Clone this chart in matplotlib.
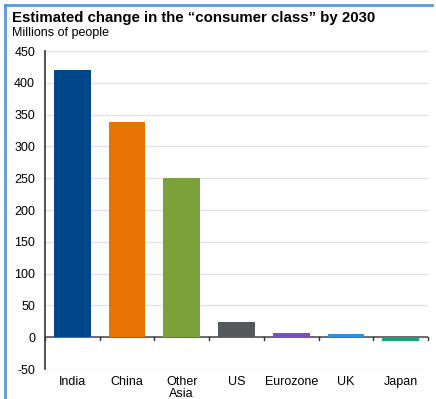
import matplotlib.pyplot as plt
from matplotlib.lines import Line2D

plt.rcParams['font.family'] = ['Liberation Sans', 'DejaVu Sans']

# Estimated change in consumer class by 2030 (millions of people)
regions = ['India', 'China', 'Other\nAsia', 'US', 'Eurozone', 'UK', 'Japan']
change = [420, 338, 250, 24, 6, 5, -6]
colors = ['#00478A', '#E97300', '#7BA23A', '#55595B', '#7A4FBE', '#2F8FDD', '#17A673']
yticks = [-50, 0, 50, 100, 150, 200, 250, 300, 350, 400, 450]

fig = plt.figure(figsize=(4.36, 3.99), dpi=100)
ax = fig.add_axes([0.103, 0.075, 0.879, 0.797])

x = list(range(len(regions)))
ax.bar(x, change, width=0.67, color=colors, zorder=5)

ax.set_xlim(-0.5, len(regions) - 0.5)
ax.set_ylim(-50, 450)
ax.set_yticks(yticks)
ax.set_yticklabels([str(v) for v in yticks], fontsize=9)
ax.grid(axis='y', color='#E3E3E3', lw=1, zorder=0)

# zero line with category boundary ticks
ax.axhline(0, color='#555555', lw=1.2, zorder=4)
for b in range(len(regions) + 1):
    ax.plot([b - 0.5, b - 0.5], [0, -4], color='#333333', lw=1, zorder=4, clip_on=False)

ax.set_xticks(x)
ax.set_xticklabels(regions, fontsize=9, linespacing=0.95)
ax.tick_params(axis='x', length=0, pad=5)
ax.tick_params(axis='y', length=0, pad=7)
for s in ['top', 'right', 'bottom']:
    ax.spines[s].set_visible(False)
ax.spines['left'].set_color('#333333')
ax.spines['left'].set_linewidth(1.2)

fig.text(0.028, 0.955, 'Estimated change in the \u201cconsumer class\u201d by 2030',
         fontsize=10.8, fontweight='bold', va='center')
fig.text(0.028, 0.917, 'Millions of people', fontsize=9, va='center')

# blue frame on top and left
fig.add_artist(Line2D([0.012, 0.012], [0.0, 0.988], color='#5B9BD5', lw=2, transform=fig.transFigure))
fig.add_artist(Line2D([0.012, 0.99], [0.988, 0.988], color='#5B9BD5', lw=2, transform=fig.transFigure))

fig.savefig('out.png', dpi=100)
